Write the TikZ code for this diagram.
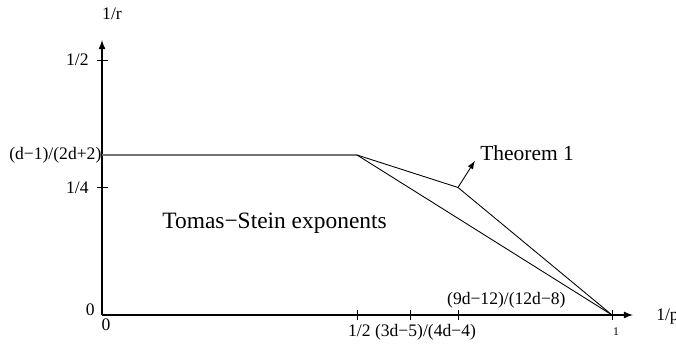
\documentclass[tikz,border=0pt]{standalone}
\usepackage{fontspec}
\setmainfont{Liberation Serif}

\begin{document}
\begin{tikzpicture}[x=9.18cm,y=9.18cm,
    lbl/.style={inner sep=0pt, font=\fontsize{9}{10}\selectfont},
    axis/.style={line width=0.6pt, -latex},
    edge/.style={line width=0.45pt}]
    \useasboundingbox (-0.2,-0.0569) rectangle (1.1255,0.6176);
    \coordinate (o)  at (0.000, 0.000);
    \coordinate (xe) at (1.041, 0.000);
    \coordinate (ye) at (0.000, 0.539);
    \coordinate (h)  at (0.000, 0.3137);
    \coordinate (k)  at (0.500, 0.3137);
    \coordinate (t)  at (0.698, 0.250);
    \coordinate (ta) at (0.731, 0.302);
    \coordinate (e)  at (1.000, 0.000);
    \draw [axis] (o) -- (xe);
    \draw [axis] (o) -- (ye);
    \foreach \x in {0.5, 0.604, 0.698, 1}
      \draw [edge] (\x,-0.01) -- (\x,0.01);
    \foreach \y in {0.25, 0.5}
      \draw [edge] (-0.01,\y) -- (0.012,\y);
    \draw [line width=1pt, black!55] (h) -- (k);
    \draw [edge] (k) -- (t) -- (e);
    \draw [edge] (k) -- (e);
    \draw [edge, -latex] (t) -- (ta);
    \node [lbl] (r)   at (0.0196, 0.5915) {1/r};
    \node [lbl, anchor=west] (p) at (1.086, -0.004) {1/p};
    \node [lbl, anchor=east] (yh) at (-0.0255, 0.500) {1/2};
    \node [lbl, anchor=east] (yq) at (-0.0255, 0.250) {1/4};
    \node [lbl, anchor=east] (yd) at (-0.0005, 0.3137) {(d−1)/(2d+2)};
    \node [lbl, anchor=east] (y0) at (-0.0137, 0.0098) {0};
    \node [lbl] (x0)  at (0.0078, -0.0186) {0};
    \node [lbl, anchor=west] (xh) at (0.482, -0.0333) {1/2 (3d−5)/(4d−4)};
    \node [lbl, anchor=west] (xn) at (0.676, 0.0294) {(9d−12)/(12d−8)};
    \node [inner sep=0pt, font=\fontsize{6}{7}\selectfont] (x1) at (1.008, -0.0333) {1};
    \node [inner sep=0pt, anchor=west, font=\fontsize{11}{12}\selectfont] (th) at (0.741, 0.3176) {Theorem 1};
    \node [inner sep=0pt, anchor=west, font=\fontsize{12}{13}\selectfont] (ts) at (0.1176, 0.1804) {Tomas−Stein exponents};
\end{tikzpicture}
\end{document}
